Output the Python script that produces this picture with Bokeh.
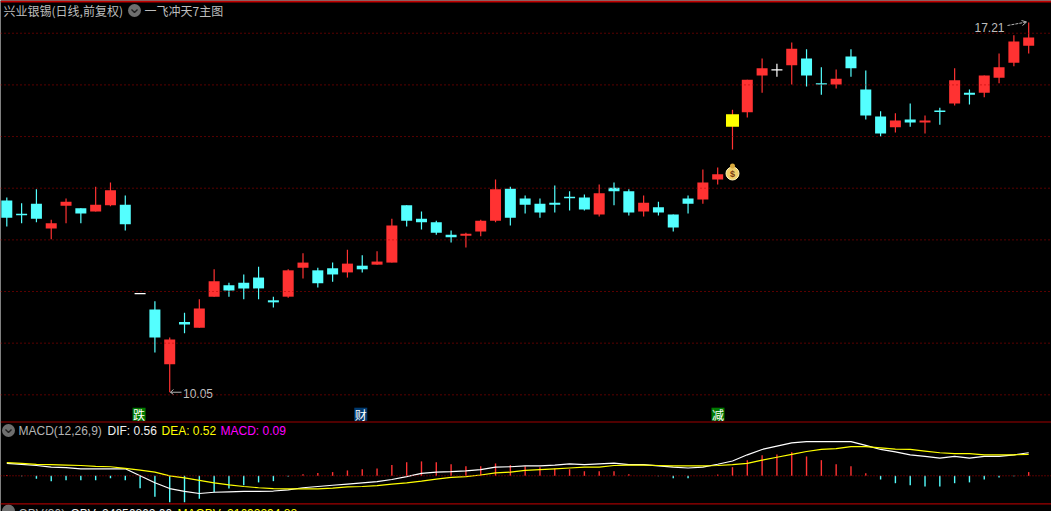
from bokeh.plotting import figure
from bokeh.models import Range1d, LinearAxis, Span
from bokeh.core.properties import value
from bokeh.embed import file_html
from bokeh.resources import INLINE

# ---- chart values -------------------------------------------------------
opens = [13.76,13.49,13.70,13.22,13.66,13.61,13.55,13.67,13.68,11.96,11.65,10.59,11.41,11.30,11.90,12.12,12.17,12.27,11.83,11.90,
         12.46,12.41,12.45,12.37,12.50,12.52,12.56,13.67,13.41,13.34,13.10,13.08,13.16,13.37,13.99,13.80,13.70,13.72,13.84,13.82,
         13.49,14.01,13.94,13.55,13.63,13.49,13.80,13.78,14.17,15.19,15.47,16.18,16.29,16.38,16.51,16.03,16.01,16.55,15.91,15.39,
         15.18,15.33,15.27,15.50,15.64,15.85,15.85,16.14,16.43,16.76]
highs = [13.82,13.71,13.98,13.39,13.80,13.61,14.03,14.11,13.86,11.96,11.81,11.11,11.59,11.85,12.43,12.17,12.33,12.48,11.90,12.43,
         12.74,12.46,12.56,12.81,12.70,12.78,13.41,13.67,13.55,13.37,13.18,13.14,13.39,14.17,14.03,13.86,13.80,14.05,13.94,13.88,
         14.07,14.11,13.98,13.86,13.74,13.49,13.86,14.36,14.40,15.52,16.10,16.51,16.41,16.82,16.69,16.34,16.30,16.69,16.28,15.49,
         15.45,15.64,15.41,15.56,16.32,15.91,16.18,16.61,16.96,17.21]
lows = [13.26,13.32,13.34,13.01,13.32,13.32,13.55,13.65,13.18,11.96,10.82,10.05,11.19,11.30,11.90,11.90,11.85,11.85,11.69,11.88,
        12.25,12.08,12.19,12.27,12.37,12.52,12.56,13.26,13.20,13.10,12.95,12.85,13.07,13.34,13.28,13.51,13.43,13.53,13.57,13.57,
        13.45,13.67,13.47,13.45,13.47,13.16,13.51,13.70,14.07,14.75,15.37,15.85,16.16,16.01,15.97,15.81,15.93,16.16,15.33,15.00,
        15.08,15.19,15.06,15.23,15.60,15.62,15.76,16.03,16.36,16.61]
closes = [13.43,13.49,13.41,13.32,13.74,13.51,13.68,13.96,13.30,11.96,11.11,11.07,11.36,11.67,12.20,12.02,12.06,12.06,11.79,12.41,
          12.56,12.16,12.33,12.54,12.43,12.58,13.28,13.37,13.34,13.14,13.05,13.12,13.37,13.98,13.43,13.68,13.53,13.68,13.82,13.59,
          13.90,13.94,13.53,13.72,13.53,13.24,13.70,14.11,14.27,15.43,16.10,16.32,16.29,16.70,16.18,16.02,16.12,16.32,15.41,15.06,
          15.31,15.27,15.31,15.49,16.09,15.81,16.18,16.34,16.84,16.92]
candle_kind = ["d","d","d","u","u","d","u","u","d","f","d","u","d","u","u","d","d","d","d","u",
               "u","d","d","u","d","u","u","d","d","d","d","u","u","u","d","d","d","d","d","d",
               "u","d","d","u","d","d","d","u","u","s","u","u","f","u","d","d","u","d","d","d",
               "u","d","u","d","u","d","u","u","u","u"]

dif = [0.30,0.28,0.25,0.21,0.20,0.17,0.17,0.17,0.17,0.00,-0.17,-0.31,-0.38,-0.43,-0.40,-0.39,-0.38,-0.38,-0.37,-0.34,
       -0.29,-0.26,-0.23,-0.20,-0.17,-0.14,-0.09,-0.02,0.06,0.09,0.10,0.12,0.15,0.21,0.22,0.24,0.24,0.26,0.29,0.27,
       0.29,0.31,0.27,0.27,0.24,0.21,0.19,0.21,0.28,0.36,0.51,0.64,0.72,0.80,0.83,0.83,0.83,0.83,0.74,0.64,
       0.58,0.51,0.47,0.43,0.47,0.43,0.47,0.47,0.51,0.56]
dea = [0.32,0.30,0.28,0.27,0.26,0.25,0.23,0.22,0.18,0.14,0.09,0.00,-0.05,-0.11,-0.17,-0.22,-0.26,-0.29,-0.31,-0.32,
       -0.32,-0.32,-0.30,-0.27,-0.26,-0.24,-0.20,-0.17,-0.13,-0.08,-0.04,-0.02,0.02,0.07,0.09,0.13,0.15,0.17,0.19,0.21,
       0.21,0.25,0.26,0.26,0.25,0.24,0.24,0.24,0.25,0.27,0.30,0.38,0.45,0.52,0.59,0.64,0.66,0.71,0.71,0.68,
       0.65,0.64,0.60,0.56,0.54,0.54,0.51,0.51,0.51,0.52]
macd = [0.02,-0.01,-0.07,-0.13,-0.11,-0.11,-0.11,-0.06,-0.11,-0.30,-0.51,-0.64,-0.64,-0.56,-0.40,-0.31,-0.23,-0.16,-0.13,-0.02,
        0.04,0.07,0.09,0.13,0.16,0.18,0.26,0.33,0.35,0.33,0.28,0.23,0.23,0.30,0.26,0.23,0.21,0.18,0.16,0.11,
        0.11,0.11,0.04,0.00,-0.01,-0.06,-0.06,0.00,0.03,0.21,0.38,0.50,0.52,0.57,0.47,0.38,0.28,0.23,0.06,-0.09,
        -0.18,-0.23,-0.26,-0.26,-0.18,-0.16,-0.09,-0.04,-0.01,0.09]

price_grid = [10, 11, 12, 13, 14, 15, 16, 17]
signal_labels = ["跌", "财", "减"]
signal_index = [8.93, 23.9, 48.02]
signal_colors = ["#007A00", "#003A70", "#007A00"]
low_label = "10.05"
high_label = "17.21"
title_main = "兴业银锡(日线,前复权)"
title_formula = "一飞冲天7主图"
macd_legend = [("MACD(12,26,9)", "#B4B4B4", 18), ("DIF: 0.56", "#F0F0F0", 107),
               ("DEA: 0.52", "#FFFF00", 161), ("MACD: 0.09", "#FF00FF", 220)]
obv_legend = [("OBV(30)", "#B4B4B4", 18), ("OBV: 24856862.00", "#F0F0F0", 70),
              ("MAOBV: 21692294.88", "#FFFF00", 177)]

# ---- scale helpers ------------------------------------------------------
W, H = 1051, 511
def X(px): return (px - 6.3) / 14.81
def Y(py): return 17.634 - 0.01936 * py
def Ym(py): return (475.3 - py) * 0.0243

RED, CYAN, WHITE, YELLOW = "#FF3232", "#54FFFF", "#FFFFFF", "#FFFF00"
GRID, PANE = "#B00000", "#A00000"
FONT = value("Noto Sans CJK SC")
LATIN = value("Liberation Sans")
GREY = "#BEBEBE"

p = figure(width=W, height=H, x_range=Range1d(X(0), X(W)), y_range=Range1d(Y(H), Y(0)),
           output_backend="svg", toolbar_location=None, tools="",
           x_axis_location=None, y_axis_location=None,
           background_fill_color="black", border_fill_color="black",
           min_border=0, min_border_left=0, min_border_right=0, min_border_top=0, min_border_bottom=0)
p.outline_line_color = None
p.xgrid.visible = False
p.ygrid.visible = False
p.extra_y_ranges = {"macd": Range1d(Ym(H), Ym(0))}

def chevron(px, py):
    p.scatter([X(px)], [Y(py)], size=13, marker="circle", fill_color="#6E6E6E", line_color=None)
    p.line([X(px - 3), X(px), X(px + 3)], [Y(py - 1), Y(py + 2), Y(py - 1)], line_color="#1E1E1E", line_width=1.4)

def label(px, py, txt, col, font=LATIN, align="left", baseline="middle", size="12px"):
    p.text([X(px)], [Y(py)], text=[txt], text_font=font, text_font_size=size, text_color=col,
           text_align=align, text_baseline=baseline)

# ---- rules --------------------------------------------------------------
for g in price_grid:
    p.add_layout(Span(location=g, dimension="width", line_color=GRID, line_width=1, line_dash="1 3"))
p.add_layout(Span(location=Y(1), dimension="width", line_color="#C00000", line_width=2))
p.add_layout(Span(location=Y(421.5), dimension="width", line_color=PANE, line_width=1.2))
p.add_layout(Span(location=Y(503.3), dimension="width", line_color=PANE, line_width=1.2))
p.add_layout(Span(location=0, y_range_name="macd", dimension="width", line_color=GRID, line_width=1, line_dash="1 2"))

# ---- candles ------------------------------------------------------------
idx = list(range(len(opens)))
colors = {"u": RED, "d": CYAN, "f": WHITE, "s": RED}
wick_colors = [colors[k] for k in candle_kind]
p.segment(idx, highs, idx, lows, line_color=wick_colors, line_width=1.2)

top = [max(o, c) for o, c in zip(opens, closes)]
bot = [min(o, c) for o, c in zip(opens, closes)]
solid = [i for i in idx if top[i] - bot[i] >= 0.03 and candle_kind[i] != "s"]
thin = [i for i in idx if top[i] - bot[i] < 0.03]
special = [i for i in idx if candle_kind[i] == "s"]
p.vbar(solid, width=11 / 14.81, top=[top[i] for i in solid], bottom=[bot[i] for i in solid],
       fill_color=[wick_colors[i] for i in solid], line_color=None)
p.segment([i - 5.5 / 14.81 for i in thin], [closes[i] for i in thin], [i + 5.5 / 14.81 for i in thin],
          [closes[i] for i in thin], line_color=[wick_colors[i] for i in thin], line_width=1.4)
p.vbar(special, width=13 / 14.81, top=[top[i] for i in special], bottom=[bot[i] for i in special],
       fill_color=YELLOW, line_color=None)

# money bag
bag_i, bag_p = 49, Y(173)
p.scatter([bag_i], [bag_p], size=13, marker="circle", fill_color="#F0CE6A", line_color="#FFF2B8", line_width=1)
p.scatter([bag_i], [Y(165.5)], size=5, marker="circle", fill_color="#D9A93C", line_color=None)
p.text([bag_i], [bag_p], text=["$"], text_font=LATIN, text_font_size="9px", text_font_style="bold",
       text_color="#7A3B10", text_align="center", text_baseline="middle")

# extreme annotations
p.segment([X(170)], [10.05], [X(181)], [10.05], line_color="#B4B4B4", line_width=1)
p.line([X(173), X(170), X(173)], [Y(389), 10.05, Y(394)], line_color="#B4B4B4", line_width=1)
label(182.5, 392.5, low_label, GREY)
label(1004, 26.5, high_label, GREY, align="right")
p.line([X(1007), X(1026)], [Y(25), Y(21.5)], line_color="#B4B4B4", line_width=1, line_dash="3 1")
p.line([X(1021), X(1026), X(1022)], [Y(20), Y(21.5), Y(25)], line_color="#B4B4B4", line_width=1)

# signal tags
p.rect(signal_index, [Y(413.7)] * 3, width=13 / 14.81, height=13 * 0.01936, fill_color=signal_colors, line_color=None)
p.text(signal_index, [Y(413.7)] * 3, text=signal_labels, text_font=FONT, text_font_size="12px",
       text_color="#FFFFFF", text_align="center", text_baseline="middle")

# title row
label(3, 10, title_main, GREY, font=FONT)
chevron(134, 10)
label(144, 10, title_formula, GREY, font=FONT)

# ---- MACD pane ----------------------------------------------------------
p.segment(idx, [0] * len(idx), idx, macd, y_range_name="macd",
          line_color=[RED if v > 0 else CYAN for v in macd], line_width=1.4)
p.line(idx, dif, y_range_name="macd", line_color=WHITE, line_width=1.2)
p.line(idx, dea, y_range_name="macd", line_color=YELLOW, line_width=1.2)
chevron(8, 430)
for txt, col, px in macd_legend:
    label(px, 430, txt, col)

# ---- OBV pane (cropped by the window) -----------------------------------
p.scatter([X(8)], [Y(510.5)], size=13, marker="circle", fill_color="#6E6E6E", line_color=None)
for txt, col, px in obv_legend:
    label(px, 506.5, txt, col, baseline="top")

p.styles = {"position": "absolute", "left": "0px", "top": "0px"}
open("out.html", "w").write(file_html(p, INLINE))
